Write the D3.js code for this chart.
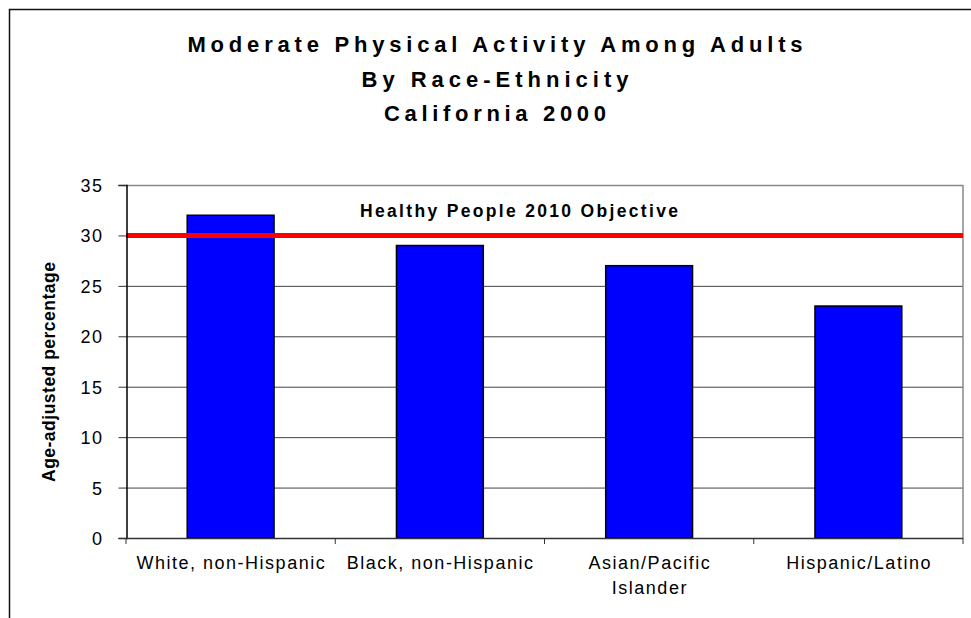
<!DOCTYPE html>
<html>
<head>
<meta charset="utf-8">
<script src="https://cdn.jsdelivr.net/npm/d3@7"></script>
<style>
  html, body { margin: 0; padding: 0; background: #fff; }
  svg { display: block; font-family: "Liberation Sans", Arial, sans-serif; }
</style>
</head>
<body>
<script>
const titleLines = ["Moderate Physical Activity Among Adults", "By Race-Ethnicity", "California 2000"];
const categories = [["White, non-Hispanic"], ["Black, non-Hispanic"], ["Asian/Pacific", "Islander"], ["Hispanic/Latino"]];
const values = [32, 29, 27, 23];
const yTicks = [0, 5, 10, 15, 20, 25, 30, 35];
const objectiveValue = 30;
const objectiveLabel = "Healthy People 2010 Objective";
const yAxisLabel = "Age-adjusted percentage";

(function () {
const W = 971, H = 618;
const svg = d3.select("body").append("svg").attr("width", W).attr("height", H);

// outer frame
svg.append("rect").attr("x", 9.5).attr("y", 9.5).attr("width", 1000).attr("height", 700)
  .attr("fill", "none").attr("stroke", "#111").attr("stroke-width", 1.5);

const pLeft = 126, pRight = 963, pTop = 185, pBottom = 538;
const catKeys = categories.map(c => c.join(" "));

const x = d3.scaleBand().domain(catKeys).range([pLeft, pRight]).paddingInner(0.585).paddingOuter(0.2925);
const y = d3.scaleLinear().domain([0, 35]).range([pBottom, pTop]);

// title
const titleY = [52, 87, 121];
const titleLen = [615, 267, 222];
svg.append("g").selectAll("text").data(titleLines).join("text")
  .attr("x", 495).attr("y", (d, i) => titleY[i])
  .attr("text-anchor", "middle").attr("font-size", 22).attr("font-weight", "bold")
  .attr("textLength", (d, i) => titleLen[i]).attr("lengthAdjust", "spacing")
  .attr("fill", "#000").text(d => d);

// gridlines
svg.append("g").selectAll("line").data(yTicks.filter(t => t > 0)).join("line")
  .attr("x1", pLeft).attr("x2", pRight).attr("y1", d => y(d) + 0.5).attr("y2", d => y(d) + 0.5)
  .attr("stroke", d => d === 35 ? "#888" : "#444").attr("stroke-width", d => d === 35 ? 1.5 : 1);

// right border of plot
svg.append("line").attr("x1", pRight).attr("x2", pRight).attr("y1", pTop).attr("y2", pBottom)
  .attr("stroke", "#888").attr("stroke-width", 1.5);

// bars
svg.append("g").selectAll("rect").data(values).join("rect")
  .attr("x", (d, i) => x(catKeys[i]))
  .attr("y", d => y(d))
  .attr("width", x.bandwidth())
  .attr("height", d => y(0) - y(d))
  .attr("fill", "#0000FF").attr("stroke", "#000").attr("stroke-width", 1.5);

// objective line
svg.append("line").attr("x1", pLeft).attr("x2", pRight).attr("y1", y(objectiveValue)).attr("y2", y(objectiveValue))
  .attr("stroke", "#FF0000").attr("stroke-width", 5);
svg.append("text").attr("x", 360).attr("y", 217)
  .attr("font-size", 17.5).attr("font-weight", "bold")
  .attr("textLength", 318).attr("lengthAdjust", "spacing")
  .attr("fill", "#000").text(objectiveLabel);

// y axis
const yAxis = d3.axisLeft(y).tickValues(yTicks).tickSize(8).tickPadding(0).tickFormat(d3.format("d"));
const gy = svg.append("g").attr("transform", `translate(${pLeft + 0.5},0)`).call(yAxis);
gy.select(".domain").attr("stroke", "#000").attr("stroke-width", 1.5);
gy.selectAll(".tick line").attr("stroke", "#333");
gy.selectAll(".tick text").attr("x", -23).attr("dy", "0.36em")
  .attr("font-size", 18).attr("letter-spacing", 1.5).attr("fill", "#000")
  .attr("font-family", "'Liberation Sans', Arial, sans-serif");

// x axis line
svg.append("line").attr("x1", pLeft).attr("x2", pRight).attr("y1", pBottom + 0.5).attr("y2", pBottom + 0.5)
  .attr("stroke", "#333").attr("stroke-width", 1.5);
// x separators ticks
const step = x.step();
const seps = catKeys.map(k => x(k) - step * x.paddingInner() / 2).concat([x(catKeys[catKeys.length - 1]) + x.bandwidth() + step * x.paddingInner() / 2]);
svg.append("g").selectAll("line").data(seps).join("line")
  .attr("x1", d => d).attr("x2", d => d).attr("y1", pBottom).attr("y2", pBottom + 6)
  .attr("stroke", "#333").attr("stroke-width", 1);

// x labels
const xl = svg.append("g").selectAll("text").data(categories).join("text")
  .attr("text-anchor", "middle").attr("font-size", 18).attr("letter-spacing", 1.5).attr("fill", "#000");
xl.each(function(lines, i) {
  const cx = x(catKeys[i]) + x.bandwidth() / 2 + 0.75;
  d3.select(this).selectAll("tspan").data(lines).join("tspan")
    .attr("x", cx).attr("y", (d, j) => 569 + j * 25).text(d => d);
});

// y axis title
svg.append("text").attr("transform", "translate(55,372) rotate(-90)")
  .attr("text-anchor", "middle").attr("font-size", 17.5).attr("font-weight", "bold")
  .attr("textLength", 220).attr("lengthAdjust", "spacing")
  .attr("fill", "#000").text(yAxisLabel);
})();
</script>
</body>
</html>
